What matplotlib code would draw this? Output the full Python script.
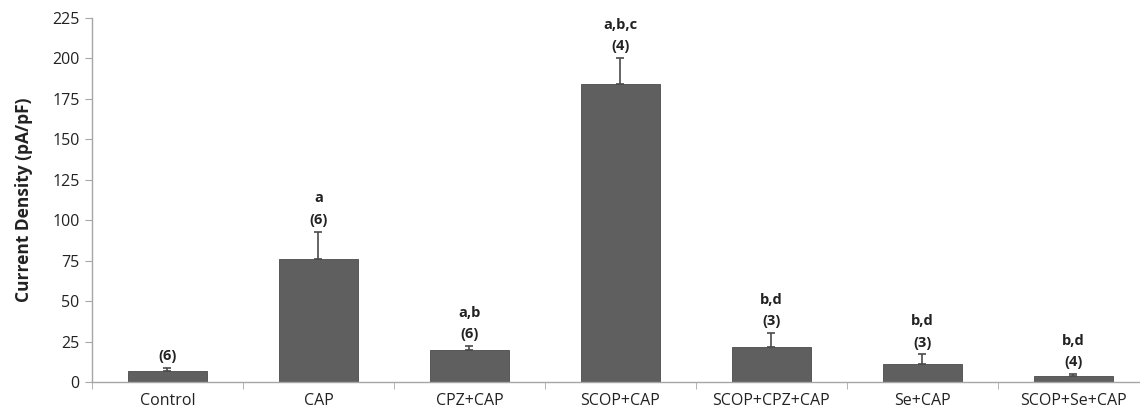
import matplotlib.pyplot as plt
import numpy as np

plt.rcParams['font.family'] = ['Open Sans', 'DejaVu Sans']

groups = ['Control', 'CAP', 'CPZ+CAP', 'SCOP+CAP', 'SCOP+CPZ+CAP', 'Se+CAP', 'SCOP+Se+CAP']
density = [6.8, 76, 19.5, 184, 21.5, 11, 3.5]
sem = [1.8, 17, 2.5, 16.5, 8.5, 6, 1.5]
letters = ['', 'a', 'a,b', 'a,b,c', 'b,d', 'b,d', 'b,d']
n_cells = ['(6)', '(6)', '(6)', '(4)', '(3)', '(3)', '(4)']

axis_grey = '#a6a6a6'
bar_grey = '#5f5f5f'

fig = plt.figure(figsize=(11.4, 4.17), dpi=100)
ax = fig.add_axes([0.0807, 0.084, 0.927, 0.873])

x = np.arange(len(groups))
ax.bar(x, density, width=0.52, color=bar_grey, edgecolor='#4a4a4a', linewidth=0.6, zorder=2)
ax.errorbar(x, density, yerr=[np.zeros(len(sem)), sem], fmt='none',
            ecolor='#4a4a4a', elinewidth=1.2, capsize=3, capthick=1.2, zorder=3)

for xi, d, s, let, n in zip(x, density, sem, letters, n_cells):
    top = d + s
    ax.annotate(n, (xi, top), xytext=(0, 8.6), textcoords='offset points',
                ha='center', va='center', fontsize=10.5, fontweight='bold', color='#222222')
    if let:
        ax.annotate(let, (xi, top), xytext=(0, 23.8), textcoords='offset points',
                    ha='center', va='center', fontsize=10.5, fontweight='bold', color='#222222')

ax.set_xlim(-0.5, len(groups) - 0.5)
ax.set_ylim(0, 225)
ax.set_yticks(np.arange(0, 226, 25))
ax.set_xticks(x)
ax.set_xticklabels(groups)
ax.set_xticks(np.arange(-0.5, len(groups), 1.0), minor=True)

ax.tick_params(axis='x', which='major', length=0, pad=8, labelsize=11.5, colors='#222222')
ax.tick_params(axis='x', which='minor', length=5, color=axis_grey, direction='out')
ax.tick_params(axis='y', length=5, color=axis_grey, direction='out', labelsize=11.5,
               labelcolor='#222222', pad=4)

for side in ['top', 'right']:
    ax.spines[side].set_visible(False)
for side in ['left', 'bottom']:
    ax.spines[side].set_color(axis_grey)
    ax.spines[side].set_linewidth(1.0)

ax.set_ylabel('Current Density (pA/pF)', fontsize=12.5, fontweight='bold',
              color='#222222', labelpad=14)

fig.savefig('out.png', dpi=100)
